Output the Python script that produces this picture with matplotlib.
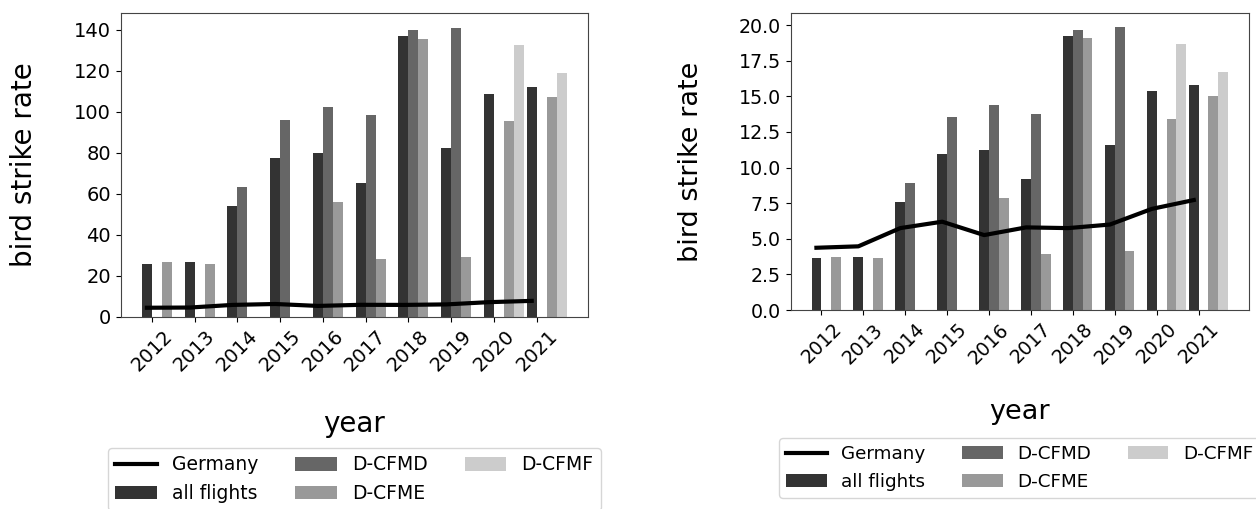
import numpy as np
import matplotlib
matplotlib.use("Agg")
import matplotlib.pyplot as plt

years = [2012, 2013, 2014, 2015, 2016, 2017, 2018, 2019, 2020, 2021]

# left panel (bird strike rate, first normalisation)
left_all = [25.9, 26.5, 53.9, 77.6, 79.8, 65.4, 137.1, 82.5, 108.9, 112.3]
left_cfmd = [0, 0, 63.3, 96.0, 102.2, 98.2, 139.7, 141.0, 0, 0]
left_cfme = [26.5, 25.9, 0, 0, 56.0, 28.0, 135.6, 29.3, 95.4, 107.0]
left_cfmf = [0, 0, 0, 0, 0, 0, 0, 0, 132.8, 118.7]

# right panel (bird strike rate, second normalisation)
right_all = [3.65, 3.74, 7.58, 10.95, 11.23, 9.19, 19.27, 11.60, 15.35, 15.79]
right_cfmd = [0, 0, 8.91, 13.52, 14.36, 13.78, 19.63, 19.84, 0, 0]
right_cfme = [3.74, 3.65, 0, 0, 7.86, 3.93, 19.09, 4.14, 13.43, 15.04]
right_cfmf = [0, 0, 0, 0, 0, 0, 0, 0, 18.69, 16.68]

germany = [4.37, 4.47, 5.75, 6.2, 5.26, 5.8, 5.75, 6.0, 7.1, 7.72]

series_names = ["all flights", "D-CFMD", "D-CFME", "D-CFMF"]
colors = ["#333333", "#666666", "#999999", "#cccccc"]

W, H = 1256, 509
fig = plt.figure(figsize=(W / 100, H / 100), dpi=100)

def px_axes(x0, y0, x1, y1):
    return fig.add_axes([x0 / W, (H - y1) / H, (x1 - x0) / W, (y1 - y0) / H])

ax1 = px_axes(120.7, 13.3, 588, 316.7)
ax2 = px_axes(790.7, 13.3, 1249, 310)

w = 0.7 / 3
x = np.array(years, dtype=float)

def draw(ax, data, legend_top_px, ax_top_px, ax_h_px, xpad, ypad, k):
    ax.plot(x - w / 2, germany, color="black", lw=3, label="Germany", zorder=3)
    for i, (vals, name, c) in enumerate(zip(data, series_names, colors)):
        ax.bar(x + (i - 0.5) * w, vals, width=w, color=c, label=name, zorder=2)
    ax.set_xlim(2011.27, 2022.2)
    ax.set_xticks(years)
    ax.set_xticklabels([str(y) for y in years], rotation=45, fontsize=14 * k)
    ax.tick_params(axis="y", labelsize=14 * k)
    ax.set_xlabel("year", fontsize=20 * k, labelpad=xpad)
    ax.set_ylabel("bird strike rate", fontsize=20 * k, labelpad=ypad)
    for s in ax.spines.values():
        s.set_color("#444444")
    y_anchor = (ax_top_px + ax_h_px - legend_top_px) / ax_h_px
    ax.legend(loc="upper center", bbox_to_anchor=(0.5, y_anchor), ncol=3,
              fontsize=13.5 * k, handlelength=2.2, columnspacing=2.0,
              frameon=True, borderaxespad=0)

draw(ax1, [left_all, left_cfmd, left_cfme, left_cfmf], 448, 13.3, 303.4, 25, 26, 1.0)
draw(ax2, [right_all, right_cfmd, right_cfme, right_cfmf], 438, 13.3, 296.7, 23, 25, 0.978)
ax1.set_yticks(np.arange(0, 141, 20))
ax2.set_yticks(np.arange(0, 20.1, 2.5))

fig.savefig("out.png", dpi=100)
